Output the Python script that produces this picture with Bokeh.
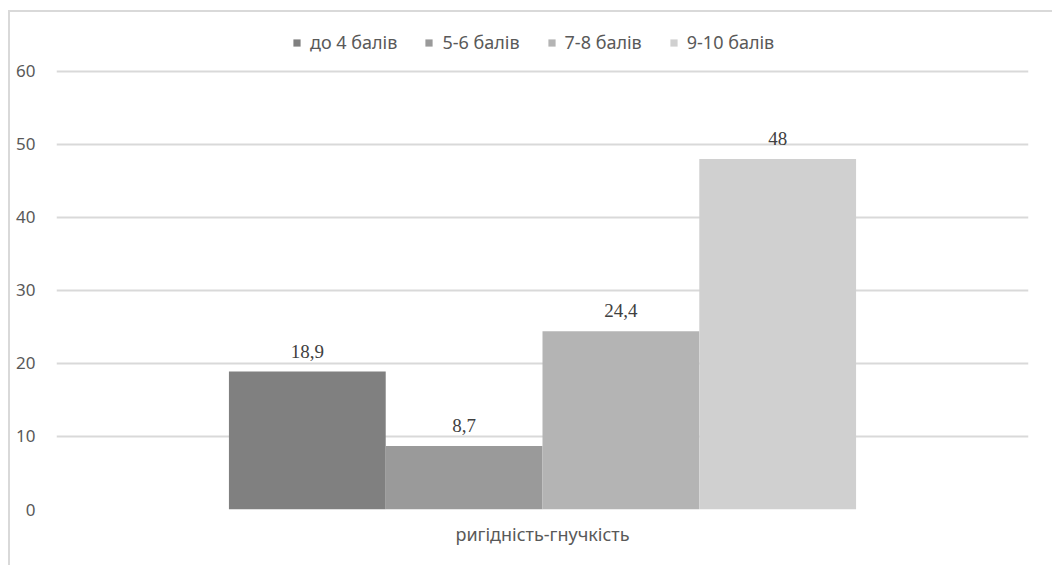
from bokeh.plotting import figure
from bokeh.models import ColumnDataSource, FactorRange, Legend, LegendItem, LabelSet, FixedTicker, Range1d
from bokeh.transform import dodge
from bokeh.embed import file_html
from bokeh.resources import INLINE

# Data
category = "ригідність-гнучкість"
series_names = ["до 4 балів", "5-6 балів", "7-8 балів", "9-10 балів"]
values = [18.9, 8.7, 24.4, 48]
value_labels = ["18,9", "8,7", "24,4", "48"]
colors = ["#808080", "#9a9a9a", "#b4b4b4", "#d0d0d0"]
y_ticks = [0, 10, 20, 30, 40, 50, 60]

sans = "Noto Sans"
serif = "Liberation Serif"
text_grey = "#595959"
grid_grey = "#d9d9d9"

# plot area runs 60 units over 438 px; extra headroom above the top gridline holds the legend
px_per_unit = 438.3 / 60
headroom_px = 45

p = figure(
    width=1044, height=555,
    x_range=FactorRange(category),
    y_range=Range1d(0, 60 + headroom_px / px_per_unit),
    output_backend="svg",
    toolbar_location=None,
    min_border_left=46, min_border_right=26,
    min_border_top=14, min_border_bottom=58,
)
p.styles = {
    "margin-left": "8px",
    "margin-top": "10px",
    "border-left": "2px solid #d9d9d9",
    "border-top": "2px solid #d9d9d9",
}
p.outline_line_color = None
p.background_fill_color = "white"
p.border_fill_color = "white"

bar_w = 0.1613
offsets = [-1.5 * bar_w, -0.5 * bar_w, 0.5 * bar_w, 1.5 * bar_w]

items = []
for name, val, lab, col, off in zip(series_names, values, value_labels, colors, offsets):
    src = ColumnDataSource(dict(cat=[category], val=[val], lab=[lab]))
    r = p.vbar(x=dodge("cat", off, range=p.x_range), top="val", width=bar_w,
               source=src, fill_color=col, line_color=None)
    items.append(LegendItem(label=name, renderers=[r]))
    p.add_layout(LabelSet(x=dodge("cat", off, range=p.x_range), y="val", text="lab",
                          source=src, text_align="center", text_baseline="alphabetic",
                          y_offset=14, text_font=serif, text_font_size="19px",
                          text_color="#404040"))

legend = Legend(items=items, orientation="horizontal", location=(236, 455),
                glyph_width=9, glyph_height=9, label_standoff=9, spacing=27,
                padding=0, margin=0, border_line_color=None,
                background_fill_alpha=0,
                label_text_font=sans, label_text_font_size="18px",
                label_text_color=text_grey)
p.add_layout(legend)

# y axis: labels only
p.yaxis.ticker = FixedTicker(ticks=y_ticks)
p.yaxis.axis_line_color = None
p.yaxis.major_tick_line_color = None
p.yaxis.major_tick_out = 0
p.yaxis.major_tick_in = 0
p.yaxis.minor_tick_line_color = None
p.yaxis.major_label_standoff = 21
p.yaxis.major_label_text_font = sans
p.yaxis.major_label_text_font_size = "17px"
p.yaxis.major_label_text_color = text_grey

# x axis: category name only
p.xaxis.axis_line_color = None
p.xaxis.major_tick_line_color = None
p.xaxis.major_tick_out = 0
p.xaxis.major_tick_in = 0
p.xaxis.major_label_standoff = 12
p.xaxis.major_label_text_font = sans
p.xaxis.major_label_text_font_size = "18px"
p.xaxis.major_label_text_color = text_grey

p.xgrid.grid_line_color = None
p.ygrid.ticker = FixedTicker(ticks=y_ticks)
p.ygrid.grid_line_color = grid_grey
p.ygrid.grid_line_width = 2

open("out.html", "w").write(file_html(p, INLINE))
